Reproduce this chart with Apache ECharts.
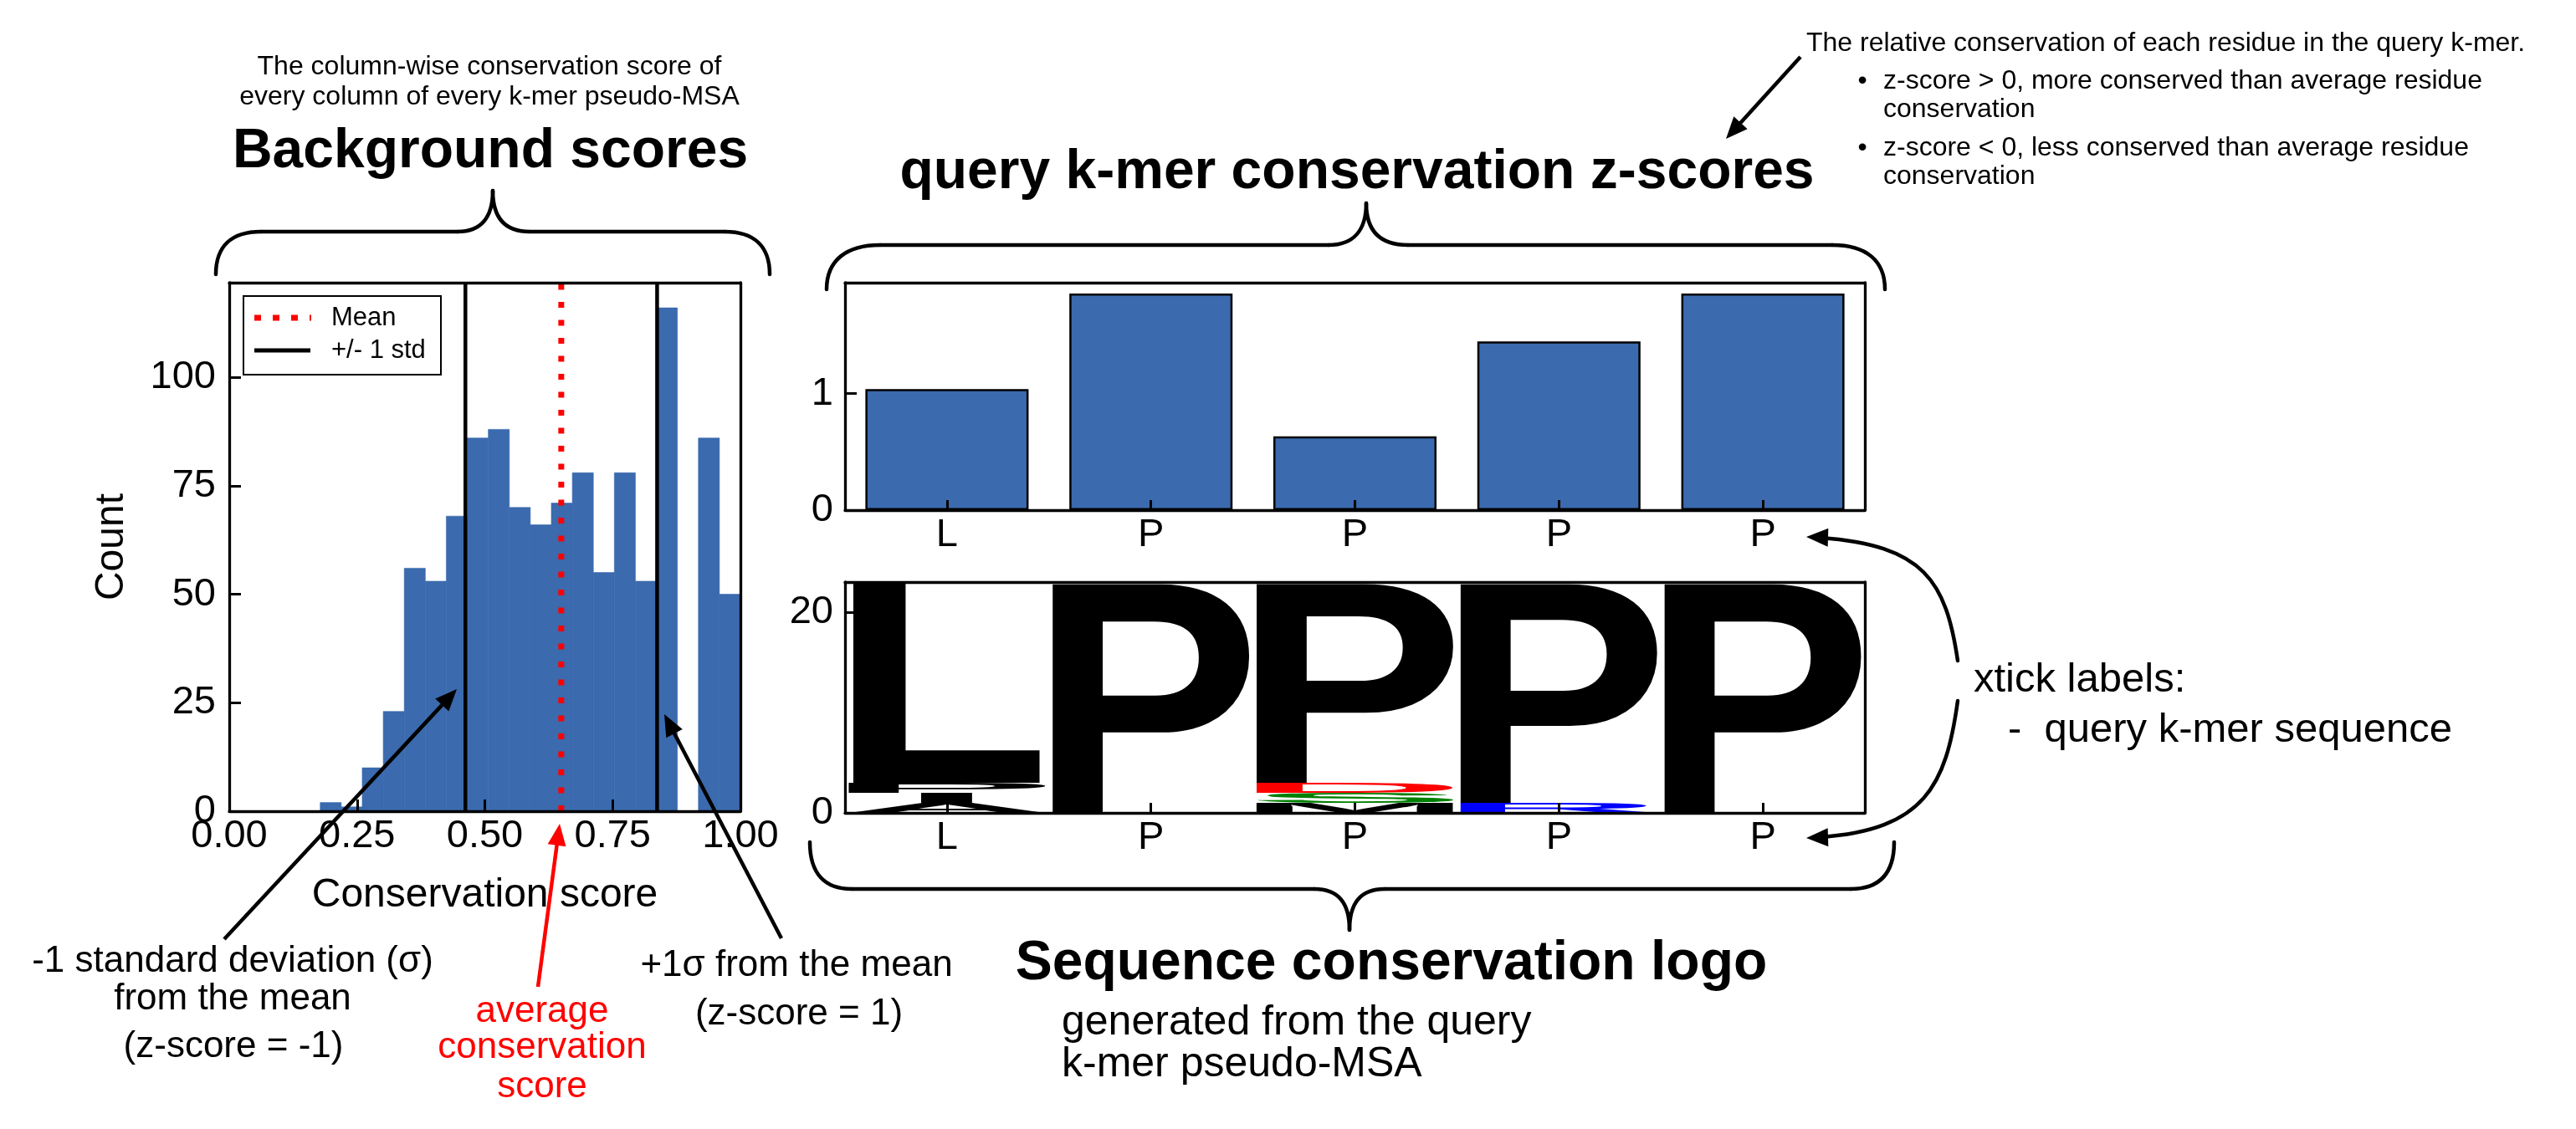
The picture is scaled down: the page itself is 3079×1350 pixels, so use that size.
<!DOCTYPE html>
<html><head><meta charset="utf-8">
<script src="https://cdn.jsdelivr.net/npm/echarts@6/dist/echarts.min.js"></script>
<style>html,body{margin:0;padding:0;background:#fff;}#c{width:3079px;height:1350px;}</style>
</head><body><div id="c"></div>
<script>
// ================= DATA =================
// Background-score histogram (20 bins between histRange)
const histCounts = [2, 1, 10, 23, 56, 53, 68, 86, 88, 70, 66, 71, 78, 55, 78, 53, 116, 0, 86, 50];
const histRange = [0.178, 1.0];
const histXTicks = [0, 0.25, 0.5, 0.75, 1.0];
const histYMax = 121.8;
const meanScore = 0.6495;
const stdScore = 0.1875;

// Query k-mer z-scores
const querySeq = ['L', 'P', 'P', 'P', 'P'];
const zScores = [1.038, 1.859, 0.633, 1.447, 1.859];
const zYMax = 1.952;

// Sequence logo: stacked letter counts per column (bottom -> top)
const logoCol1 = [['A', 1], ['I', 1], ['P', 1], ['L', 20]];
const logoCol2 = [['P', 23]];
const logoCol3 = [['M', 1], ['S', 1], ['D', 1], ['P', 20]];
const logoCol4 = [['R', 1], ['P', 22]];
const logoCol5 = [['P', 23]];
const logoYMax = 23;

// ================= STYLE =================
const FF = '"Liberation Sans", Arial, Helvetica, sans-serif';
const BLUE = '#3b6aae';
const LETTER_COLOR = { A: '#000', I: '#000', P: '#000', L: '#000', M: '#000', S: '#008000', D: '#ff0000', R: '#0000ff' };
const LETTER_WIDTH = { L: 0.925, I: 0.26 };
const LOGO_FS = 200;
const LOGO_FONT = 'bold ' + LOGO_FS + 'px ' + FF;

const mctx = document.createElement('canvas').getContext('2d');
mctx.font = LOGO_FONT; mctx.textAlign = 'center'; mctx.textBaseline = 'middle';
const metricCache = {};
function metric(ch) {
  if (!metricCache[ch]) {
    const m = mctx.measureText(ch);
    metricCache[ch] = { l: m.actualBoundingBoxLeft, r: m.actualBoundingBoxRight, a: m.actualBoundingBoxAscent, d: m.actualBoundingBoxDescent };
  }
  return metricCache[ch];
}

const logoStacks = [logoCol1, logoCol2, logoCol3, logoCol4, logoCol5];
const logoItems = [], logoLetters = [];
logoStacks.forEach((stack, col) => {
  let base = 0;
  stack.forEach(([ch, h]) => { logoItems.push([col, base, base + h]); logoLetters.push(ch); base += h; });
});
const catIdx = querySeq.map((_, i) => String(i));

const tickLabel = { color: '#000', fontSize: 47, fontFamily: FF };
const axLine = { show: true, onZero: false, lineStyle: { color: '#000', width: 3.3 } };
const nameStyle = { color: '#000', fontSize: 48, fontFamily: FF };
function frameAxis(gridIndex, position) {
  return { gridIndex, type: 'value', min: 0, max: 1, position, axisLine: axLine, axisTick: { show: false },
    axisLabel: { show: false }, splitLine: { show: false }, z: 5 };
}

// ================= ANNOTATIONS =================
function txt(text, x, y, size, o) {
  o = o || {};
  return { type: 'text', x, y, z: 100, style: { text, font: (o.bold ? 'bold ' : '') + size + 'px ' + FF,
    fill: o.color || '#000', align: o.align || 'center', verticalAlign: 'middle',
    textAlign: o.align || 'center', textVerticalAlign: 'middle' } };
}
function head(tx, ty, ux, uy, color, hl, hw) {
  hl = hl || 26; hw = hw || 11;
  const L = Math.hypot(ux, uy); ux /= L; uy /= L;
  const bx = tx - ux * hl, by = ty - uy * hl;
  return { type: 'polygon', z: 100, shape: { points: [[tx, ty], [bx - uy * hw, by + ux * hw], [bx + uy * hw, by - ux * hw]] },
    style: { fill: color, stroke: null } };
}
function arrow(x1, y1, x2, y2, color) {
  const dx = x2 - x1, dy = y2 - y1, L = Math.hypot(dx, dy);
  const ex = x2 - dx / L * 22, ey = y2 - dy / L * 22;
  return [
    { type: 'line', z: 100, shape: { x1, y1, x2: ex, y2: ey }, style: { stroke: color, lineWidth: 4.5 } },
    head(x2, y2, dx, dy, color)
  ];
}
// simple path (M/L/C only) -> line and bezierCurve graphic elements
function strokePath(d, lw) {
  const tok = d.trim().split(/[\s,]+/);
  const out = []; let i = 0, cx = 0, cy = 0, cmd = 'M';
  const st = { stroke: '#000', lineWidth: lw || 4.5, fill: null, lineCap: 'round' };
  while (i < tok.length) {
    if (/^[MLC]$/.test(tok[i])) { cmd = tok[i]; i++; }
    if (cmd === 'M') { cx = +tok[i]; cy = +tok[i + 1]; i += 2; }
    else if (cmd === 'L') { const x = +tok[i], y = +tok[i + 1]; out.push({ type: 'line', z: 100, shape: { x1: cx, y1: cy, x2: x, y2: y }, style: st }); cx = x; cy = y; i += 2; }
    else if (cmd === 'C') {
      const p = tok.slice(i, i + 6).map(Number);
      out.push({ type: 'bezierCurve', z: 100, shape: { x1: cx, y1: cy, cpx1: p[0], cpy1: p[1], cpx2: p[2], cpy2: p[3], x2: p[4], y2: p[5] }, style: st });
      cx = p[4]; cy = p[5]; i += 6;
    } else i++;
  }
  return out;
}

const graphics = [].concat(
  // left titles
  txt('The column-wise conservation score of', 585, 80, 32),
  txt('every column of every k-mer pseudo-MSA', 585, 116, 32),
  txt('Background scores', 586, 182, 66, { bold: true }),
  strokePath('M 258 328 C 258 295 276 277 312 277 L 547 277 C 575 277 589 260 589 228 C 589 260 603 277 633 277 L 866 277 C 902 277 920 295 920 328'),
  // right titles
  txt('query k-mer conservation z-scores', 1622, 207, 66, { bold: true }),
  strokePath('M 988 346 C 988 311 1012 293 1052 293 L 1588 293 C 1618 293 1633 275 1633 243 C 1633 275 1648 293 1683 293 L 2190 293 C 2230 293 2253 311 2253 346'),
  txt('The relative conservation of each residue in the query k-mer.', 2159, 52, 32, { align: 'left' }),
  txt('\u2022', 2226, 97, 32),
  txt('z-score > 0, more conserved than average residue', 2251, 97, 32, { align: 'left' }),
  txt('conservation', 2251, 131, 32, { align: 'left' }),
  txt('\u2022', 2226, 177, 32),
  txt('z-score < 0, less conserved than average residue', 2251, 177, 32, { align: 'left' }),
  txt('conservation', 2251, 211, 32, { align: 'left' }),
  arrow(2152, 68, 2063, 166, '#000'),
  // histogram legend
  { type: 'rect', z: 100, shape: { x: 291, y: 354, width: 236, height: 94 }, style: { fill: '#fff', stroke: '#000', lineWidth: 2 } },
  { type: 'line', z: 101, shape: { x1: 304, y1: 380, x2: 372, y2: 380 }, style: { stroke: '#ff0000', lineWidth: 7, lineDash: [8, 14], lineCap: 'butt' } },
  { type: 'line', z: 101, shape: { x1: 304, y1: 419, x2: 371, y2: 419 }, style: { stroke: '#000', lineWidth: 5 } },
  txt('Mean', 396, 380, 31, { align: 'left' }),
  txt('+/- 1 std', 396, 419, 31, { align: 'left' }),
  // histogram annotations
  arrow(268, 1123, 546, 824, '#000'),
  arrow(934, 1122, 794, 854, '#000'),
  arrow(643, 1180, 669, 985, '#ff0000'),
  txt('-1 standard deviation (\u03c3)', 278, 1150, 44),
  txt('from the mean', 278, 1195, 44),
  txt('(z-score = -1)', 279, 1252, 44),
  txt('average', 648, 1210, 44, { color: '#ff0000' }),
  txt('conservation', 648, 1253, 44, { color: '#ff0000' }),
  txt('score', 648, 1300, 44, { color: '#ff0000' }),
  txt('+1\u03c3 from the mean', 952, 1155, 44),
  txt('(z-score = 1)', 955, 1213, 44),
  // logo annotations
  strokePath('M 968 1007 C 968 1045 986 1063 1018 1063 L 1571 1063 C 1600 1063 1613 1080 1613 1112 C 1613 1080 1626 1063 1655 1063 L 2212 1063 C 2246 1063 2264 1045 2264 1007'),
  txt('Sequence conservation logo', 1663, 1153, 66, { bold: true }),
  txt('generated from the query', 1269, 1223, 50, { align: 'left' }),
  txt('k-mer pseudo-MSA', 1269, 1273, 50, { align: 'left' }),
  txt('xtick labels:', 2359, 813, 49, { align: 'left' }),
  txt('-  query k-mer sequence', 2400, 873, 49, { align: 'left' }),
  strokePath('M 2340 790 C 2326 695 2300 652 2176 643'),
  head(2159, 642, -1, -0.03, '#000'),
  strokePath('M 2340 838 C 2326 940 2300 992 2176 1001'),
  head(2159, 1002, -1, 0.03, '#000')
);

// ================= CHART =================
const chart = echarts.init(document.getElementById('c'), null, { renderer: 'canvas', width: 3079, height: 1350 });
const option = {
  animation: false,
  backgroundColor: '#fff',
  textStyle: { fontFamily: FF },
  grid: [
    { left: 274, top: 338, width: 611, height: 632, outerBoundsMode: 'none' },
    { left: 1010, top: 338, width: 1219, height: 272, outerBoundsMode: 'none' },
    { left: 1010, top: 696, width: 1219, height: 276, outerBoundsMode: 'none' }
  ],
  xAxis: [
    { gridIndex: 0, type: 'value', min: histXTicks[0], max: histXTicks[histXTicks.length - 1], interval: 0.25, position: 'bottom',
      axisLine: axLine, axisTick: { show: true, inside: true, length: 14, lineStyle: { color: '#000', width: 3 } },
      axisLabel: Object.assign({}, tickLabel, { margin: 7, formatter: v => v.toFixed(2) }), splitLine: { show: false },
      name: 'Conservation score', nameLocation: 'middle', nameGap: 77, nameTextStyle: nameStyle, z: 5 },
    frameAxis(0, 'top'),
    { gridIndex: 1, type: 'category', data: catIdx, position: 'bottom', axisLine: axLine,
      axisTick: { show: true, inside: true, alignWithLabel: true, length: 12, lineStyle: { color: '#000', width: 3 } },
      axisLabel: Object.assign({}, tickLabel, { margin: 7, formatter: (v, i) => querySeq[i] }), splitLine: { show: false }, z: 5 },
    frameAxis(1, 'top'),
    { gridIndex: 2, type: 'category', data: catIdx, position: 'bottom', axisLine: axLine,
      axisTick: { show: true, inside: true, alignWithLabel: true, length: 12, lineStyle: { color: '#000', width: 3 } },
      axisLabel: Object.assign({}, tickLabel, { margin: 7, formatter: (v, i) => querySeq[i] }), splitLine: { show: false }, z: 5 },
    frameAxis(2, 'top')
  ],
  yAxis: [
    { gridIndex: 0, type: 'value', min: 0, max: histYMax, interval: 25, position: 'left', axisLine: axLine,
      axisTick: { show: true, inside: true, length: 14, lineStyle: { color: '#000', width: 3 } },
      axisLabel: Object.assign({}, tickLabel, { margin: 16, showMaxLabel: false }), splitLine: { show: false },
      name: 'Count', nameLocation: 'middle', nameRotate: 90, nameGap: 116, nameTextStyle: nameStyle, z: 5 },
    frameAxis(0, 'right'),
    { gridIndex: 1, type: 'value', min: 0, max: zYMax, interval: 1, position: 'left', axisLine: axLine,
      axisTick: { show: true, inside: true, length: 14, lineStyle: { color: '#000', width: 3 } },
      axisLabel: Object.assign({}, tickLabel, { margin: 14, showMaxLabel: false }), splitLine: { show: false }, z: 5 },
    frameAxis(1, 'right'),
    { gridIndex: 2, type: 'value', min: 0, max: logoYMax, interval: 20, position: 'left', axisLine: axLine,
      axisTick: { show: true, inside: true, length: 14, lineStyle: { color: '#000', width: 3 } },
      axisLabel: Object.assign({}, tickLabel, { margin: 14, showMaxLabel: false }), splitLine: { show: false }, z: 5 },
    frameAxis(2, 'right')
  ],
  series: [
    { type: 'custom', name: 'histogram', xAxisIndex: 0, yAxisIndex: 0, z: 2,
      data: histCounts.map((c, i) => [i, c]),
      renderItem: function (params, api) {
        const i = api.value(0), c = api.value(1);
        const w = (histRange[1] - histRange[0]) / histCounts.length;
        const a = api.coord([histRange[0] + i * w, 0]);
        const b = api.coord([histRange[0] + (i + 1) * w, c]);
        return { type: 'rect', shape: { x: a[0], y: b[1], width: b[0] - a[0], height: a[1] - b[1] },
          style: { fill: BLUE, stroke: BLUE, lineWidth: 0.6 } };
      } },
    { type: 'line', name: '-1 std', xAxisIndex: 0, yAxisIndex: 0, z: 3, symbol: 'none', clip: false,
      data: [[meanScore - stdScore, 0], [meanScore - stdScore, histYMax]], lineStyle: { color: '#000', width: 4.5 } },
    { type: 'line', name: '+1 std', xAxisIndex: 0, yAxisIndex: 0, z: 3, symbol: 'none', clip: false,
      data: [[meanScore + stdScore, 0], [meanScore + stdScore, histYMax]], lineStyle: { color: '#000', width: 4.5 } },
    { type: 'line', name: 'Mean', xAxisIndex: 0, yAxisIndex: 0, z: 4, symbol: 'none', clip: false,
      data: [[meanScore, 0], [meanScore, histYMax]], lineStyle: { color: '#ff0000', width: 7, type: [7, 14.5], cap: 'butt' } },
    { type: 'bar', name: 'z-score', xAxisIndex: 2, yAxisIndex: 2, data: zScores, barWidth: '80%',
      itemStyle: { color: BLUE, borderColor: '#000', borderWidth: 2.5 } },
    { type: 'custom', name: 'logo', xAxisIndex: 4, yAxisIndex: 4, z: 2, data: logoItems,
      renderItem: function (params, api) {
        const ch = logoLetters[params.dataIndex];
        const col = api.value(0), y0 = api.value(1), y1 = api.value(2);
        const pb = api.coord([col, y0]), pt = api.coord([col, y1]);
        const band = api.size([1, 0])[0];
        const bw = band * (LETTER_WIDTH[ch] || 0.97);
        const m = metric(ch);
        const sx = bw / (m.l + m.r), sy = (pb[1] - pt[1]) / (m.a + m.d);
        return { type: 'text', x: pb[0] - bw / 2 + m.l * sx, y: pt[1] + m.a * sy, scaleX: sx, scaleY: sy,
          style: { text: ch, x: 0, y: 0, font: LOGO_FONT, fill: LETTER_COLOR[ch], align: 'center', verticalAlign: 'middle',
            textAlign: 'center', textVerticalAlign: 'middle' } };
      } }
  ],
  graphic: { elements: graphics }
};
chart.setOption(option);
</script>
</body></html>
